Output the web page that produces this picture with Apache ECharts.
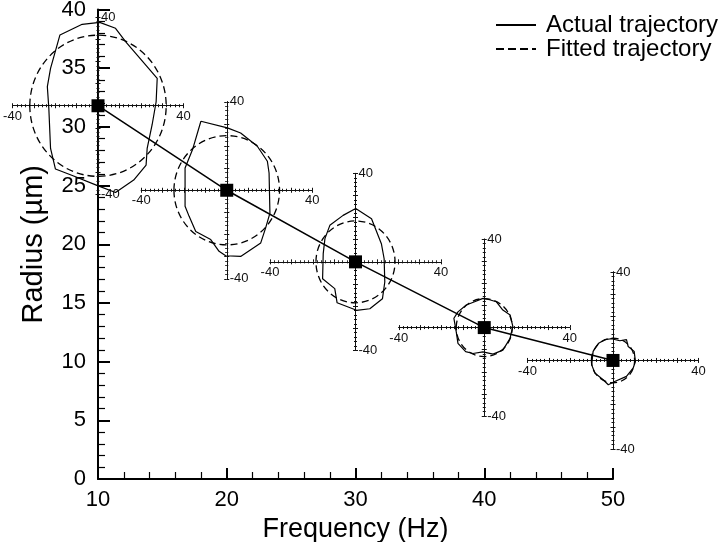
<!DOCTYPE html>
<html><head><meta charset="utf-8">
<script src="https://cdn.jsdelivr.net/npm/echarts@6/dist/echarts.min.js"></script>
<style>html,body{margin:0;padding:0;background:#fff}#c{width:720px;height:542px}</style>
</head><body><div id="c"></div>
<script>
// ---- data ----
const frequency = [10, 20, 30, 40, 50];          // Hz
const radius = [31.8, 24.6, 18.5, 12.9, 10.1];    // µm
const fittedRadius = [31.9, 24.7, 18.5, 13.1, 10.1];
const insetLabelValues = [-40, 40];
const legendNames = ['Actual trajectory', 'Fitted trajectory'];

// local trajectory points (µm) around each operating point
const actual10Hz = [[0.8,37.7],[8.2,35],[12.9,29],[27.7,12.4],[27.2,1.8],[25.3,-8.7],[23,-19.3],[22.5,-26.8],[16.7,-33.6],[8.2,-39.2],[-0.5,-36],[-12,-31.5],[-19.9,-28.6],[-22.2,-19.3],[-23,-1.2],[-23.7,8.6],[-22.2,16.9],[-17.8,32],[-7.4,36.8],[0.8,37.7]];
const actual20Hz = [[-12.1,31.2],[0.3,28.2],[6.5,25.9],[14.3,19.9],[19,13.1],[19.8,7.8],[20.2,-10.3],[18.2,-17],[15.9,-23.8],[6.5,-29.9],[-0.5,-29.6],[-3.6,-27.6],[-7.5,-22.3],[-14.5,-18.6],[-17.6,-11.8],[-19.5,-7.2],[-19.5,10.1],[-16,18.4],[-12.1,31.2]];
const actual30Hz = [[0.1,24.1],[7.5,19.5],[12.1,8.2],[13.4,1.4],[13.7,-9.1],[12.6,-16.7],[6.7,-21.2],[0.5,-21.9],[-8.6,-18.5],[-9.7,-12.1],[-15.4,-7.6],[-15.1,3.7],[-14.3,10.5],[-12,16.5],[-5.8,21],[0.1,24.1]];
const actual40Hz = [[-0.6,13.2],[2.5,12.6],[5.6,11.7],[8.7,7.9],[12.1,5.7],[13.4,0.4],[12.6,-2.5],[12.1,-4.9],[8.7,-10.2],[4.1,-12],[-0.6,-11],[-5.3,-11.7],[-8.7,-10.9],[-12.3,-7.1],[-13.1,-1.9],[-14.2,4.2],[-12.3,7.1],[-8.4,10.2],[-4.5,11.7],[-0.6,13.2]];
const actual50Hz = [[-0.7,9.8],[3.2,8.9],[6.3,9.4],[7.1,6.3],[9.9,4.1],[10.5,-0.5],[9.4,-3.5],[6.3,-7.2],[0.8,-9.5],[-2.2,-11],[-4.6,-8.7],[-8.5,-5.7],[-10,-1.9],[-9.3,4.1],[-6.7,7.8],[-3.9,9.4],[-0.7,9.8]];
const actualTrajectories = [actual10Hz, actual20Hz, actual30Hz, actual40Hz, actual50Hz];

// ---- chart ----
const FONT = '"Liberation Sans", Arial, Helvetica, sans-serif';
const chart = echarts.init(document.getElementById('c'));

const mainGrid = {left: 98, right: 107, top: 9.5, bottom: 63, outerBoundsMode: 'none'};
const black = '#000';
const mainX = {
  type: 'value', min: 10, max: 50, interval: 10, gridIndex: 0,
  name: 'Frequency (Hz)', nameLocation: 'middle', nameGap: 26,
  nameTextStyle: {fontFamily: FONT, fontSize: 27, color: black},
  axisLine: {onZero: false, lineStyle: {color: black, width: 2}},
  axisTick: {inside: true, length: 11, lineStyle: {color: black, width: 2}},
  minorTick: {show: true, splitNumber: 5, length: 7, lineStyle: {color: black, width: 1.2}},
  axisLabel: {fontFamily: FONT, fontSize: 22, color: black, margin: 10},
  splitLine: {show: false}
};
const mainY = {
  type: 'value', min: 0, max: 40, interval: 5, gridIndex: 0,
  name: 'Radius (µm)', nameLocation: 'middle', nameGap: 50, nameRotate: 90,
  nameTextStyle: {fontFamily: FONT, fontSize: 29, color: black},
  axisLine: {onZero: false, lineStyle: {color: black, width: 2}},
  axisTick: {inside: true, length: 12, lineStyle: {color: black, width: 2}},
  minorTick: {show: true, splitNumber: 5, length: 7, lineStyle: {color: black, width: 1.2}},
  axisLabel: {fontFamily: FONT, fontSize: 22, color: black, margin: 12},
  splitLine: {show: false}
};
const mainSeries = {
  type: 'line', name: 'Radius', xAxisIndex: 0, yAxisIndex: 0,
  data: frequency.map((f, i) => [f, radius[i]]),
  symbol: 'rect', symbolSize: 13, z: 20,
  itemStyle: {color: black}, lineStyle: {color: black, width: 1.5},
  silent: true, animation: false
};

chart.setOption({animation: false, grid: [mainGrid], xAxis: [mainX], yAxis: [mainY], series: [mainSeries]});
const centers = frequency.map((f, i) => chart.convertToPixel({xAxisIndex: 0, yAxisIndex: 0}, [f, radius[i]]));

const HALF_W = 85.5, HALF_H = 88.5;
const grids = [mainGrid], xAxes = [mainX], yAxes = [mainY], series = [mainSeries];
const insetLine = {color: '#111', width: 1};
const fmt = v => (insetLabelValues.indexOf(v) >= 0 ? String(v) : '');

centers.forEach((c, i) => {
  const g = grids.length;
  grids.push({left: c[0] - HALF_W, top: c[1] - HALF_H, width: 2 * HALF_W, height: 2 * HALF_H, outerBoundsMode: 'none'});
  const base = {gridIndex: g, type: 'value', min: -40, max: 40, interval: 10, z: 3,
    splitLine: {show: false},
    axisLine: {onZero: true, lineStyle: insetLine},
    axisTick: {length: 2.5, lineStyle: insetLine},
    minorTick: {show: true, splitNumber: 5, length: 1.5, lineStyle: insetLine}};
  const xi = xAxes.length;
  // labels of an on-zero axis are laid out from the grid edge; pull them back to the zero line
  xAxes.push(Object.assign({}, base, {position: 'bottom',
    axisLabel: {show: true, formatter: fmt, fontFamily: FONT, fontSize: 13, color: '#111', margin: 4 - HALF_H, showMinLabel: true, showMaxLabel: true}}));
  xAxes.push(Object.assign({}, base, {position: 'top', axisLabel: {show: false}}));
  const yi = yAxes.length;
  yAxes.push(Object.assign({}, base, {position: 'right',
    axisLabel: {show: true, formatter: fmt, fontFamily: FONT, fontSize: 13, color: '#111', margin: 3 - HALF_W, showMinLabel: true, showMaxLabel: true}}));
  yAxes.push(Object.assign({}, base, {position: 'left', axisLabel: {show: false}}));

  series.push({
    type: 'line', name: legendNames[0], xAxisIndex: xi, yAxisIndex: yi,
    data: actualTrajectories[i], showSymbol: false, symbol: 'none', z: 5,
    lineStyle: {color: black, width: 1.2}, itemStyle: {color: black}, silent: true
  });
  series.push({
    type: 'custom', name: legendNames[1], xAxisIndex: xi, yAxisIndex: yi, z: 5,
    data: [[0, 0, fittedRadius[i]]], encode: {x: 0, y: 1}, silent: true,
    itemStyle: {color: black},
    renderItem: function (params, api) {
      const p = api.coord([api.value(0), api.value(1)]);
      const s = api.size([api.value(2), api.value(2)]);
      return {type: 'ellipse', shape: {cx: p[0], cy: p[1], rx: s[0], ry: s[1]},
        style: {fill: 'none', stroke: black, lineWidth: 1.3, lineDash: [7, 4]}};
    }
  });
});

chart.setOption({
  animation: false,
  grid: grids, xAxis: xAxes, yAxis: yAxes, series: series,
  legend: {
    orient: 'vertical', left: 491, top: 8, itemWidth: 40, itemHeight: 2, itemGap: 0,
    selectedMode: false,
    textStyle: {fontFamily: FONT, fontSize: 24, color: black, lineHeight: 24, padding: [0, 0, 0, 5]},
    data: [
      {name: legendNames[0], icon: 'path://M0,0H40V2H0Z'},
      {name: legendNames[1], icon: 'path://M0,0H8V2H0Z M12,0H20V2H12Z M24,0H32V2H24Z M36,0H40V2H36Z'}
    ]
  }
}, true);
</script></body></html>
